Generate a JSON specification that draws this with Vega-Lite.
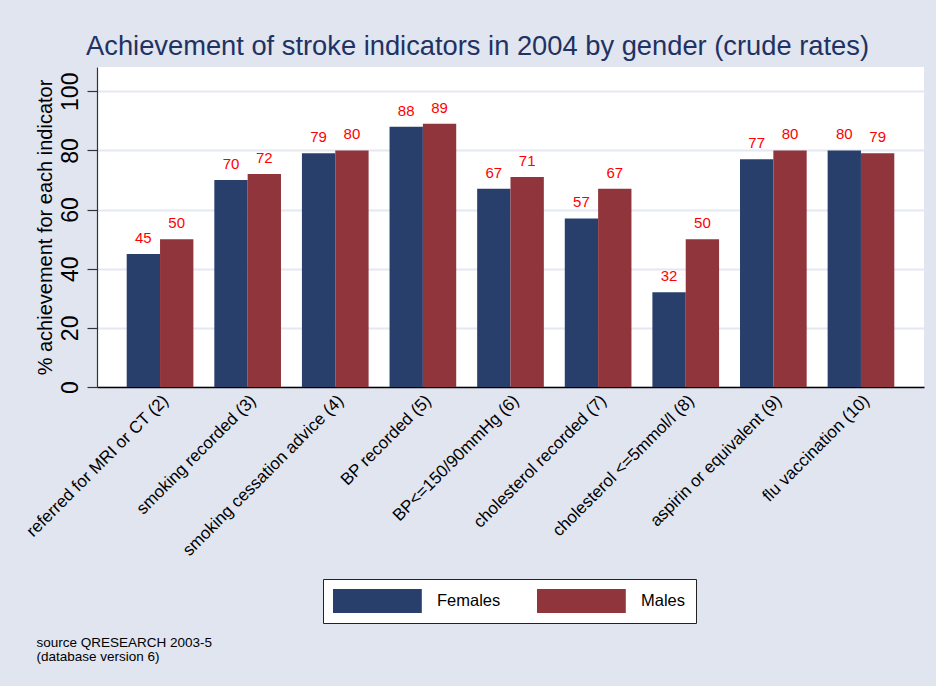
{
  "$schema": "https://vega.github.io/schema/vega-lite/v6.json",
  "autosize": {"type": "none"},
  "padding": {"left": 97, "top": 67, "right": 12, "bottom": 299},
  "width": 827,
  "height": 320,
  "background": "#E0E5F0",
  "config": {
    "font": "Liberation Sans",
    "view": {"fill": "#ffffff", "stroke": null}
  },
  "title": {
    "text": "Achievement of stroke indicators in 2004 by gender (crude rates)",
    "fontSize": 27.3,
    "fontWeight": "normal",
    "color": "#1F3262",
    "anchor": "middle",
    "dx": -33,
    "offset": 7
  },
  "data": {
    "values": [
      {"indicator": "referred for MRI or CT (2)", "gender": "Females", "value": 45},
      {"indicator": "referred for MRI or CT (2)", "gender": "Males", "value": 50},
      {"indicator": "smoking recorded (3)", "gender": "Females", "value": 70},
      {"indicator": "smoking recorded (3)", "gender": "Males", "value": 72},
      {"indicator": "smoking cessation advice (4)", "gender": "Females", "value": 79},
      {"indicator": "smoking cessation advice (4)", "gender": "Males", "value": 80},
      {"indicator": "BP recorded (5)", "gender": "Females", "value": 88},
      {"indicator": "BP recorded (5)", "gender": "Males", "value": 89},
      {"indicator": "BP<=150/90mmHg (6)", "gender": "Females", "value": 67},
      {"indicator": "BP<=150/90mmHg (6)", "gender": "Males", "value": 71},
      {"indicator": "cholesterol recorded (7)", "gender": "Females", "value": 57},
      {"indicator": "cholesterol recorded (7)", "gender": "Males", "value": 67},
      {"indicator": "cholesterol <=5mmol/l (8)", "gender": "Females", "value": 32},
      {"indicator": "cholesterol <=5mmol/l (8)", "gender": "Males", "value": 50},
      {"indicator": "aspirin or equivalent (9)", "gender": "Females", "value": 77},
      {"indicator": "aspirin or equivalent (9)", "gender": "Males", "value": 80},
      {"indicator": "flu vaccination (10)", "gender": "Females", "value": 80},
      {"indicator": "flu vaccination (10)", "gender": "Males", "value": 79}
    ]
  },
  "encoding": {
    "x": {
      "field": "indicator",
      "type": "nominal",
      "sort": null,
      "scale": {"paddingInner": 0.239, "paddingOuter": 0.339},
      "axis": {
        "title": ["source QRESEARCH 2003-5", "(database version 6)"],
        "titleX": -61,
        "titleY": 248,
        "titleAlign": "left",
        "titleAnchor": "start",
        "titleBaseline": "top",
        "titleFontSize": 13.5,
        "titleFontWeight": "normal",
        "titleLineHeight": 14,
        "titleColor": "#000000",
        "domainColor": "#000000",
        "domainWidth": 1.5,
        "ticks": false,
        "grid": false,
        "labelAngle": -45,
        "labelAlign": "right",
        "labelBaseline": "top",
        "labelFontSize": 17,
        "labelPadding": 5,
        "labelColor": "#000000",
        "labelLimit": 400
      }
    },
    "xOffset": {"field": "gender", "type": "nominal", "sort": ["Females", "Males"]},
    "y": {
      "field": "value",
      "type": "quantitative",
      "scale": {"domain": [0, 108.2], "nice": false, "zero": true},
      "axis": {
        "values": [0, 20, 40, 60, 80, 100],
        "grid": true,
        "gridColor": "#E3E8F1",
        "gridWidth": 2,
        "domainColor": "#333333",
        "domainWidth": 1.2,
        "tickColor": "#333333",
        "tickSize": 10,
        "tickWidth": 1.2,
        "labelAngle": -90,
        "labelAlign": "center",
        "labelBaseline": "bottom",
        "labelFontSize": 23,
        "labelPadding": 5,
        "labelColor": "#000000",
        "title": "% achievement for each indicator",
        "titleFontSize": 20,
        "titleFontWeight": "normal",
        "titleColor": "#000000",
        "titlePadding": 4
      }
    }
  },
  "layer": [
    {
      "mark": {"type": "bar"},
      "encoding": {
        "color": {
          "field": "gender",
          "type": "nominal",
          "scale": {"domain": ["Females", "Males"], "range": ["#283F6B", "#90353C"]},
          "legend": {
            "title": null,
            "orient": "none",
            "legendX": 226,
            "legendY": 512,
            "direction": "horizontal",
            "columns": 2,
            "columnPadding": 36,
            "padding": 10,
            "strokeColor": "#222222",
            "fillColor": "#ffffff",
            "symbolType": "M-1,-1H6.4V1H-1Z",
            "symbolSize": 576,
            "symbolStrokeWidth": 0,
            "symbolOpacity": 1,
            "labelOffset": 80,
            "labelFontSize": 16.5,
            "labelColor": "#000000"
          }
        }
      }
    },
    {
      "mark": {"type": "text", "color": "#FF0000", "fontSize": 15, "baseline": "alphabetic", "dy": -11},
      "encoding": {"text": {"field": "value", "type": "quantitative"}}
    }
  ]
}
